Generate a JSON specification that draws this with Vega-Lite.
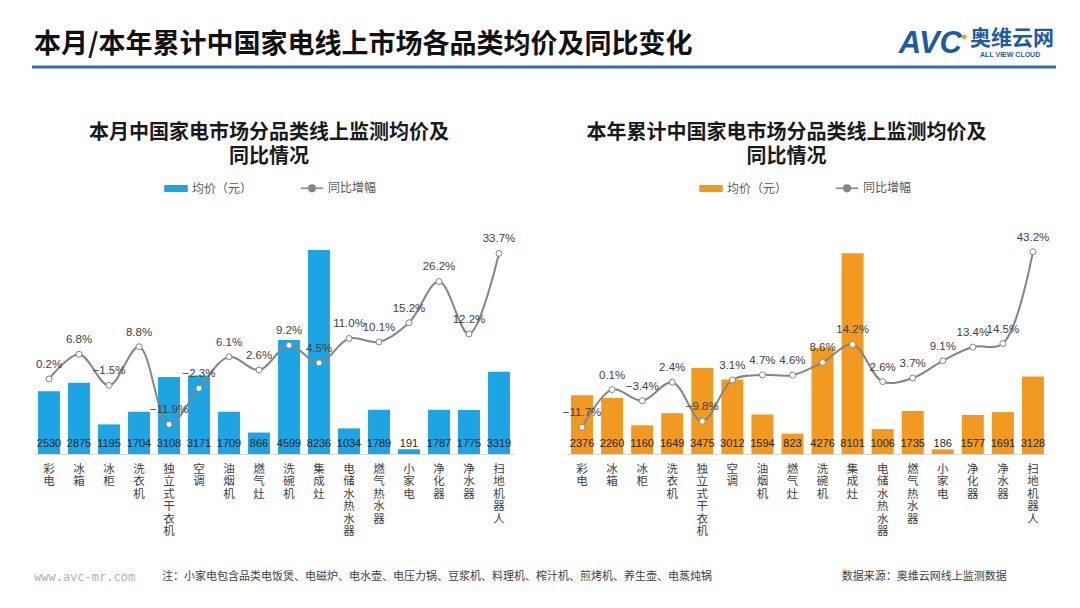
{
  "$schema": "https://vega.github.io/schema/vega-lite/v6.json",
  "background": "white",
  "padding": {"left": 30, "top": 20, "right": 10, "bottom": 0},
  "bounds": "flush",
  "spacing": 90,
  "config": {
    "view": {"stroke": null},
    "font": "Noto Sans CJK SC",
    "text": {"font": "Noto Sans CJK SC"}
  },
  "datasets": {
    "month": [
      {"cat": "彩电", "price": 2530, "yoy": 0.002},
      {"cat": "冰箱", "price": 2875, "yoy": 0.068},
      {"cat": "冰柜", "price": 1195, "yoy": -0.015},
      {"cat": "洗衣机", "price": 1704, "yoy": 0.088},
      {"cat": "独立式干衣机", "price": 3108, "yoy": -0.119},
      {"cat": "空调", "price": 3171, "yoy": -0.023},
      {"cat": "油烟机", "price": 1709, "yoy": 0.061},
      {"cat": "燃气灶", "price": 866, "yoy": 0.026},
      {"cat": "洗碗机", "price": 4599, "yoy": 0.092},
      {"cat": "集成灶", "price": 8236, "yoy": 0.045},
      {"cat": "电储水热水器", "price": 1034, "yoy": 0.110},
      {"cat": "燃气热水器", "price": 1789, "yoy": 0.101},
      {"cat": "小家电", "price": 191, "yoy": 0.152},
      {"cat": "净化器", "price": 1787, "yoy": 0.262},
      {"cat": "净水器", "price": 1775, "yoy": 0.122},
      {"cat": "扫地机器人", "price": 3319, "yoy": 0.337}
    ],
    "ytd": [
      {"cat": "彩电", "price": 2376, "yoy": -0.117},
      {"cat": "冰箱", "price": 2260, "yoy": 0.001},
      {"cat": "冰柜", "price": 1160, "yoy": -0.034},
      {"cat": "洗衣机", "price": 1649, "yoy": 0.024},
      {"cat": "独立式干衣机", "price": 3475, "yoy": -0.098},
      {"cat": "空调", "price": 3012, "yoy": 0.031},
      {"cat": "油烟机", "price": 1594, "yoy": 0.047},
      {"cat": "燃气灶", "price": 823, "yoy": 0.046},
      {"cat": "洗碗机", "price": 4276, "yoy": 0.086},
      {"cat": "集成灶", "price": 8101, "yoy": 0.142},
      {"cat": "电储水热水器", "price": 1006, "yoy": 0.026},
      {"cat": "燃气热水器", "price": 1735, "yoy": 0.037},
      {"cat": "小家电", "price": 186, "yoy": 0.091},
      {"cat": "净化器", "price": 1577, "yoy": 0.134},
      {"cat": "净水器", "price": 1691, "yoy": 0.145},
      {"cat": "扫地机器人", "price": 3128, "yoy": 0.432}
    ],
    "header": [{"title": "本月/本年累计中国家电线上市场各品类均价及同比变化", "cn": "奥维云网", "en": "ALL VIEW CLOUD", "brand": "AVC"}],
    "footer": [{"site": "www.avc-mr.com", "note": "注：小家电包含品类电饭煲、电磁炉、电水壶、电压力锅、豆浆机、料理机、榨汁机、煎烤机、养生壶、电蒸炖锅", "source": "数据来源：奥维云网线上监测数据"}]
  },
  "vconcat": [
    {
      "width": 1020,
      "height": 120,
      "data": {"name": "header"},
      "layer": [
        {
          "mark": {"type": "text", "align": "left", "baseline": "middle", "fontSize": 27, "fontWeight": "bold", "color": "#111111"},
          "encoding": {
            "x": {"datum": 0, "type": "quantitative", "scale": {"domain": [0, 1], "nice": false, "zero": false}, "axis": null},
            "y": {"datum": 0.7917, "type": "quantitative", "scale": {"domain": [0, 1], "nice": false, "zero": false}, "axis": null},
            "text": {"field": "title"}
          }
        },
        {
          "mark": {"type": "text", "align": "right", "baseline": "middle", "fontSize": 31, "fontWeight": "bold", "fontStyle": "italic", "font": "Liberation Sans", "color": "#1d5aa5"},
          "encoding": {
            "x": {"datum": 0.9098, "type": "quantitative"},
            "y": {"datum": 0.80, "type": "quantitative"},
            "text": {"field": "brand"}
          }
        },
        {
          "mark": {"type": "point", "filled": true, "size": 22, "color": "#f29a20", "opacity": 1},
          "encoding": {
            "x": {"datum": 0.912, "type": "quantitative"},
            "y": {"datum": 0.86, "type": "quantitative"}
          }
        },
        {
          "mark": {"type": "text", "align": "right", "baseline": "middle", "fontSize": 21, "fontWeight": "bold", "color": "#1d5aa5"},
          "encoding": {
            "x": {"datum": 1, "type": "quantitative"},
            "y": {"datum": 0.84, "type": "quantitative"},
            "text": {"field": "cn"}
          }
        },
        {
          "mark": {"type": "text", "align": "center", "baseline": "middle", "fontSize": 7, "fontWeight": "bold", "font": "Liberation Sans", "color": "#1d5aa5"},
          "encoding": {
            "x": {"datum": 0.957, "type": "quantitative"},
            "y": {"datum": 0.708, "type": "quantitative"},
            "text": {"field": "en"}
          }
        },
        {
          "mark": {"type": "rule", "color": "#2f6db5", "strokeWidth": 3},
          "encoding": {
            "x": {"datum": -0.002, "type": "quantitative"},
            "x2": {"datum": 1.002},
            "y": {"datum": 0.6083, "type": "quantitative"}
          }
        }
      ]
    },
    {
      "hconcat": [
        {
          "width": 480,
          "height": 224,
          "title": {"text": ["本月中国家电市场分品类线上监测均价及", "同比情况"], "fontSize": 20, "fontWeight": "bold", "color": "#1a1a1a", "anchor": "middle", "lineHeight": 24, "offset": 9, "dx": -5},
          "data": {"name": "month"},
          "encoding": {
            "x": {
              "field": "cat", "type": "nominal", "sort": null,
              "scale": {"paddingInner": 0.27, "paddingOuter": 0.135},
              "axis": {"title": null, "labelAngle": 0, "labelExpr": "split(datum.label, '')", "labelFontSize": 11.5, "labelLineHeight": 12.5, "labelColor": "#404040", "ticks": false, "domainColor": "#d9d9d9", "labelPadding": 9, "labelOverlap": false, "labelFont": "Noto Sans CJK SC"}
            }
          },
          "layer": [
            {
              "mark": {"type": "bar"},
              "encoding": {
                "y": {"field": "price", "type": "quantitative", "scale": {"domain": [0, 9044], "nice": false}, "axis": null},
                "color": {
                  "datum": "均价（元）", "type": "nominal",
                  "scale": {"domain": ["均价（元）", "同比增幅"], "range": ["#1da4e2", "#858585"]},
                  "legend": {
                    "orient": "none", "direction": "horizontal", "legendX": 130, "legendY": -54, "title": null,
                    "labelFontSize": 12, "labelColor": "#595959", "columnPadding": 45, "labelOffset": 4, "symbolSize": 484,
                    "encode": {"symbols": {"update": {
                      "shape": {"signal": "datum.value === '均价（元）' ? 'M-1,-0.25H1V0.25H-1Z' : 'M-1,0H-0.3M0.3,0H1M0.3,0A0.3,0.3,0,1,1,-0.3,0A0.3,0.3,0,1,1,0.3,0Z'"},
                      "fill": {"signal": "datum.value === '均价（元）' ? '#1da4e2' : 'white'"},
                      "stroke": {"signal": "datum.value === '均价（元）' ? '#1da4e2' : '#858585'"},
                      "strokeWidth": {"value": 1.5},
                      "opacity": {"value": 1}
                    }}}
                  }
                }
              }
            },
            {
              "mark": {"type": "text", "baseline": "alphabetic", "dy": -7, "fontSize": 11, "font": "Liberation Sans", "color": "#262626"},
              "encoding": {
                "y": {"datum": 0, "type": "quantitative", "scale": {"domain": [0, 9044], "nice": false}, "axis": null},
                "text": {"field": "price", "type": "quantitative", "format": "d"}
              }
            },
            {
              "mark": {"type": "line", "interpolate": "catmull-rom", "strokeWidth": 2},
              "encoding": {
                "y": {"field": "yoy", "type": "quantitative", "scale": {"domain": [-0.198, 0.3993], "nice": false, "zero": false}, "axis": null},
                "color": {"datum": "同比增幅", "type": "nominal"}
              }
            },
            {
              "mark": {"type": "point", "shape": "circle", "filled": true, "fill": "white", "stroke": "#858585", "strokeWidth": 1, "size": 36, "opacity": 1},
              "encoding": {
                "y": {"field": "yoy", "type": "quantitative", "scale": {"domain": [-0.198, 0.3993], "nice": false, "zero": false}, "axis": null}
              }
            },
            {
              "mark": {"type": "text", "baseline": "alphabetic", "dy": -11, "fontSize": 11.5, "font": "Liberation Sans", "color": "#404040"},
              "encoding": {
                "y": {"field": "yoy", "type": "quantitative", "scale": {"domain": [-0.198, 0.3993], "nice": false, "zero": false}, "axis": null},
                "text": {"field": "yoy", "type": "quantitative", "format": ".1%"}
              }
            }
          ],
          "resolve": {"scale": {"y": "independent"}}
        },
        {
          "width": 481,
          "height": 224,
          "title": {"text": ["本年累计中国家电市场分品类线上监测均价及", "同比情况"], "fontSize": 20, "fontWeight": "bold", "color": "#1a1a1a", "anchor": "middle", "lineHeight": 24, "offset": 9, "dx": -21},
          "data": {"name": "ytd"},
          "encoding": {
            "x": {
              "field": "cat", "type": "nominal", "sort": null,
              "scale": {"paddingInner": 0.27, "paddingOuter": 0.135},
              "axis": {"title": null, "labelAngle": 0, "labelExpr": "split(datum.label, '')", "labelFontSize": 11.5, "labelLineHeight": 12.5, "labelColor": "#404040", "ticks": false, "domainColor": "#d9d9d9", "labelPadding": 9, "labelOverlap": false, "labelFont": "Noto Sans CJK SC"}
            }
          },
          "layer": [
            {
              "mark": {"type": "bar"},
              "encoding": {
                "y": {"field": "price", "type": "quantitative", "scale": {"domain": [0, 9044], "nice": false}, "axis": null},
                "color": {
                  "datum": "均价（元）", "type": "nominal",
                  "scale": {"domain": ["均价（元）", "同比增幅"], "range": ["#f29a20", "#858585"]},
                  "legend": {
                    "orient": "none", "direction": "horizontal", "legendX": 132, "legendY": -54, "title": null,
                    "labelFontSize": 12, "labelColor": "#595959", "columnPadding": 45, "labelOffset": 4, "symbolSize": 484,
                    "encode": {"symbols": {"update": {
                      "shape": {"signal": "datum.value === '均价（元）' ? 'M-1,-0.25H1V0.25H-1Z' : 'M-1,0H-0.3M0.3,0H1M0.3,0A0.3,0.3,0,1,1,-0.3,0A0.3,0.3,0,1,1,0.3,0Z'"},
                      "fill": {"signal": "datum.value === '均价（元）' ? '#f29a20' : 'white'"},
                      "stroke": {"signal": "datum.value === '均价（元）' ? '#f29a20' : '#858585'"},
                      "strokeWidth": {"value": 1.5},
                      "opacity": {"value": 1}
                    }}}
                  }
                }
              }
            },
            {
              "mark": {"type": "text", "baseline": "alphabetic", "dy": -7, "fontSize": 11, "font": "Liberation Sans", "color": "#262626"},
              "encoding": {
                "y": {"datum": 0, "type": "quantitative", "scale": {"domain": [0, 9044], "nice": false}, "axis": null},
                "text": {"field": "price", "type": "quantitative", "format": "d"}
              }
            },
            {
              "mark": {"type": "line", "interpolate": "catmull-rom", "strokeWidth": 2},
              "encoding": {
                "y": {"field": "yoy", "type": "quantitative", "scale": {"domain": [-0.2004, 0.5], "nice": false, "zero": false}, "axis": null},
                "color": {"datum": "同比增幅", "type": "nominal"}
              }
            },
            {
              "mark": {"type": "point", "shape": "circle", "filled": true, "fill": "white", "stroke": "#858585", "strokeWidth": 1, "size": 36, "opacity": 1},
              "encoding": {
                "y": {"field": "yoy", "type": "quantitative", "scale": {"domain": [-0.2004, 0.5], "nice": false, "zero": false}, "axis": null}
              }
            },
            {
              "mark": {"type": "text", "baseline": "alphabetic", "dy": -11, "fontSize": 11.5, "font": "Liberation Sans", "color": "#404040"},
              "encoding": {
                "y": {"field": "yoy", "type": "quantitative", "scale": {"domain": [-0.2004, 0.5], "nice": false, "zero": false}, "axis": null},
                "text": {"field": "yoy", "type": "quantitative", "format": ".1%"}
              }
            }
          ],
          "resolve": {"scale": {"y": "independent"}}
        }
      ],
      "spacing": 53,
      "bounds": "flush",
      "resolve": {"scale": {"color": "independent"}, "legend": {"color": "independent"}}
    },
    {
      "width": 1020,
      "height": 264,
      "data": {"name": "footer"},
      "layer": [
        {
          "mark": {"type": "text", "align": "left", "baseline": "middle", "fontSize": 12, "font": "DejaVu Sans Mono", "color": "#b0b0b0"},
          "encoding": {
            "x": {"datum": 0, "type": "quantitative", "scale": {"domain": [0, 1], "nice": false, "zero": false}, "axis": null},
            "y": {"datum": 0.0265, "type": "quantitative", "scale": {"domain": [0, 1], "nice": false, "zero": false}, "axis": null},
            "text": {"field": "site"}
          }
        },
        {
          "mark": {"type": "text", "align": "left", "baseline": "middle", "fontSize": 11, "color": "#404040"},
          "encoding": {
            "x": {"datum": 0.1255, "type": "quantitative"},
            "y": {"datum": 0.0265, "type": "quantitative"},
            "text": {"field": "note"}
          }
        },
        {
          "mark": {"type": "text", "align": "left", "baseline": "middle", "fontSize": 11, "color": "#404040"},
          "encoding": {
            "x": {"datum": 0.792, "type": "quantitative"},
            "y": {"datum": 0.0265, "type": "quantitative"},
            "text": {"field": "source"}
          }
        }
      ]
    }
  ]
}
